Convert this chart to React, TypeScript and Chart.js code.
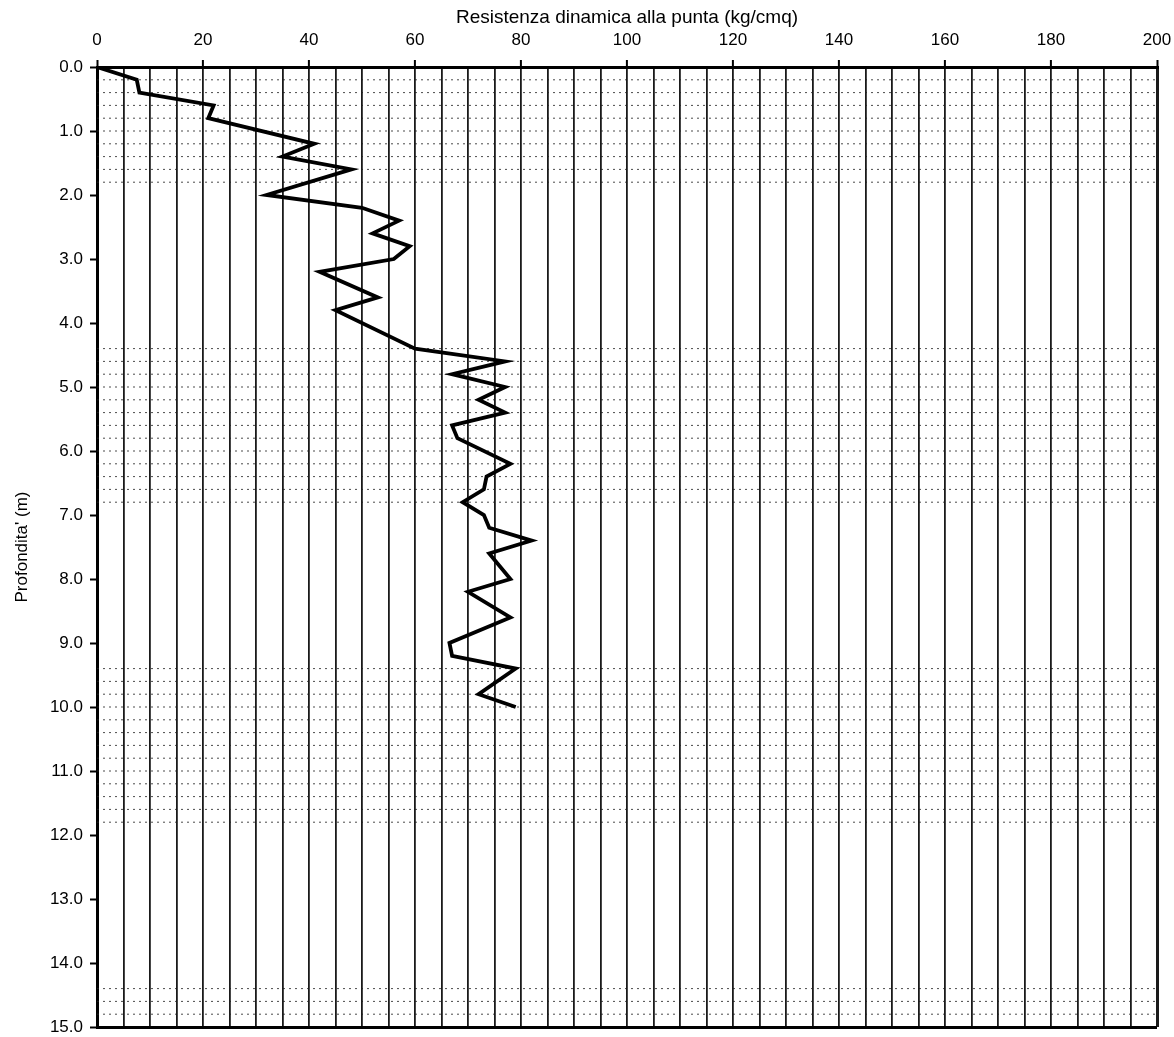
import React, { useEffect, useRef } from "react";
import { Chart, registerables } from "chart.js";

Chart.register(...registerables);

// Penetrometric test: dynamic tip resistance vs depth
const resistenza = [0, 7.5, 8, 22, 21, 41, 35, 48, 32, 50, 57, 52, 59, 56, 42, 53, 45, 60, 77, 67, 77, 72, 77, 67, 68, 78, 73.5, 73, 69, 73, 74, 82, 74, 78, 70, 78, 66.5, 67, 79, 72, 79];
const profondita = [0, 0.2, 0.4, 0.6, 0.8, 1.2, 1.4, 1.6, 2.0, 2.2, 2.4, 2.6, 2.8, 3.0, 3.2, 3.6, 3.8, 4.4, 4.6, 4.8, 5.0, 5.2, 5.4, 5.6, 5.8, 6.2, 6.4, 6.6, 6.8, 7.0, 7.2, 7.4, 7.6, 8.0, 8.2, 8.6, 9.0, 9.2, 9.4, 9.8, 10.0];

// Depths of the dotted lithology lines
const righeTratteggiate = [
  0.2, 0.4, 0.6, 0.8, 1.0, 1.2, 1.4, 1.6, 1.8,
  4.4, 4.6, 4.8, 5.0, 5.2, 5.4, 5.6, 5.8, 6.0, 6.2, 6.4, 6.6, 6.8,
  9.4, 9.6, 9.8, 10.0, 10.2, 10.4, 10.6, 10.8, 11.0, 11.2, 11.4, 11.6, 11.8,
  14.4, 14.6, 14.8,
];

const xMin = 0;
const xMax = 200;
const xStep = 5;
const xLabelStep = 20;
const yMin = 0;
const yMax = 15;
const yStep = 1;

const titoloX = "Resistenza dinamica alla punta (kg/cmq)";
const titoloY = "Profondita' (m)";

export default function App() {
  const ref = useRef<HTMLCanvasElement | null>(null);

  useEffect(() => {
    if (!ref.current) return;
    const font = "'Liberation Sans', Arial, Helvetica, sans-serif";

    const dashed = righeTratteggiate.map((d) => ({
      data: [
        { x: xMin, y: d },
        { x: xMax, y: d },
      ],
      borderColor: "rgba(30,30,30,0.8)",
      borderWidth: 1,
      borderDash: [2, 4],
      pointRadius: 0,
      fill: false,
      order: 2,
    }));

    const chart = new Chart(ref.current, {
      type: "line",
      data: {
        datasets: [
          {
            data: resistenza.map((v, i) => ({ x: v, y: profondita[i] })),
            borderColor: "#000",
            borderWidth: 3.8,
            pointRadius: 0,
            tension: 0,
            fill: false,
            order: 1,
          },
          ...dashed,
        ],
      },
      options: {
        responsive: false,
        animation: false,
        devicePixelRatio: 1,
        layout: { padding: { left: 0, right: 17, top: 0, bottom: 10 } },
        plugins: { legend: { display: false }, tooltip: { enabled: false } },
        scales: {
          x: {
            type: "linear",
            position: "top",
            min: xMin,
            max: xMax,
            afterFit: (s: any) => {
              s.height = 67;
              s.paddingLeft = 0;
              s.paddingRight = 0;
            },
            ticks: {
              stepSize: xStep,
              autoSkip: false,
              maxRotation: 0,
              padding: 9,
              color: "#000",
              font: { family: font, size: 17 },
              callback: (v: any) => (Number(v) % xLabelStep === 0 ? String(v) : ""),
            },
            grid: {
              color: "#1a1a1a",
              lineWidth: (c: any) => (c.tick && (c.tick.value === xMin || c.tick.value === xMax) ? 3 : 1.8),
              tickLength: 7,
              tickColor: (c: any) => (c.tick && c.tick.value % xLabelStep === 0 ? "#000" : "rgba(0,0,0,0)"),
              tickWidth: 2,
            },
            border: { display: true, color: "#000", width: 3 },
            title: {
              display: true,
              text: titoloX,
              color: "#000",
              font: { family: font, size: 19 },
              padding: { top: 6, bottom: 0 },
            },
          },
          y: {
            type: "linear",
            reverse: true,
            min: yMin,
            max: yMax,
            afterFit: (s: any) => {
              s.width = 97;
              s.paddingTop = 0;
              s.paddingBottom = 0;
            },
            ticks: {
              stepSize: yStep,
              autoSkip: false,
              padding: 7,
              color: "#000",
              font: { family: font, size: 17 },
              callback: (v: any) => Number(v).toFixed(1),
            },
            grid: {
              color: (c: any) => (c.tick && c.tick.value === yMax ? "#000" : "rgba(0,0,0,0)"),
              lineWidth: 3,
              tickLength: 7,
              tickColor: "#000",
              tickWidth: 2,
            },
            border: { display: true, color: "#000", width: 3 },
            title: {
              display: true,
              text: titoloY,
              color: "#000",
              font: { family: font, size: 17 },
              padding: { top: 12, bottom: 0 },
            },
          },
        },
      },
    });
    return () => chart.destroy();
  }, []);

  return (
    <canvas
      ref={ref}
      width={1174}
      height={1037}
      style={{ position: "fixed", left: 0, top: 0, width: "1174px", height: "1037px", background: "#fff" }}
    />
  );
}
